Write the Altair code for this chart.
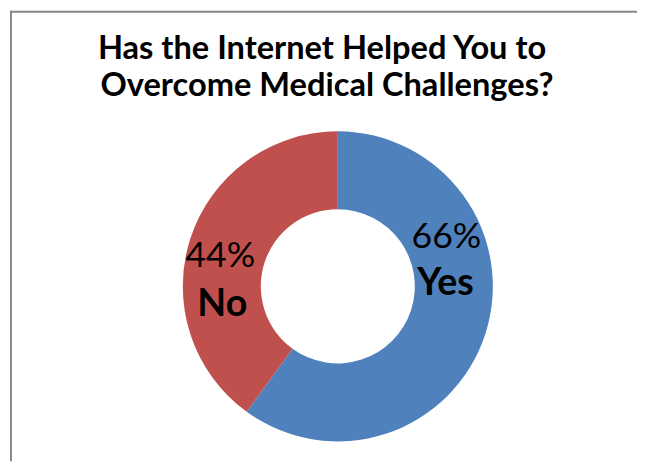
import altair as alt
import pandas as pd

categories = ["Yes", "No"]
values = [66, 44]
pct_labels = ["66%", "44%"]
colors = ["#4F81BD", "#C0504D"]
title_lines = ["Has the Internet Helped You to", "Overcome Medical Challenges?"]

df = pd.DataFrame({"cat": categories, "val": values, "order": [0, 1]})

W, H = 637, 456
CX, CY = 334, 279
FONT = "Lato"

arc = alt.Chart(df).mark_arc(outerRadius=157, innerRadius=78, strokeWidth=0).encode(
    theta=alt.Theta("val:Q", stack=True),
    color=alt.Color("cat:N", scale=alt.Scale(domain=categories, range=colors), legend=None),
    order=alt.Order("order:Q"),
    x=alt.value(CX), y=alt.value(CY),
)

def txt(s, x, y, size, weight="normal"):
    return alt.Chart(pd.DataFrame({"t": [s]})).mark_text(
        font=FONT, fontSize=size, fontWeight=weight, color="black", align="center", baseline="middle"
    ).encode(text="t:N", x=alt.value(x), y=alt.value(y))

layers = [arc,
          txt(title_lines[0], 318, 39, 33, "bold"),
          txt(title_lines[1], 323, 76, 33, "bold"),
          txt(pct_labels[0], 444, 229, 36),
          txt(categories[0], 443, 277, 38, "bold"),
          txt(pct_labels[1], 215, 248, 36),
          txt(categories[1], 217, 298, 38, "bold")]

border_v = alt.Chart(pd.DataFrame({"a": [0]})).mark_rule(color="#868686", strokeWidth=2).encode(
    x=alt.value(3), y=alt.value(0), y2=alt.value(H))
border_h = alt.Chart(pd.DataFrame({"a": [0]})).mark_rule(color="#868686", strokeWidth=2).encode(
    x=alt.value(2), x2=alt.value(W + 10), y=alt.value(1))

chart = alt.layer(border_v, border_h, *layers).properties(
    width=W, height=H, padding=0, autosize=alt.AutoSizeParams(type="none")
).configure_view(stroke=None)

chart.save("out.html", embed_options={"renderer": "svg", "actions": False})
